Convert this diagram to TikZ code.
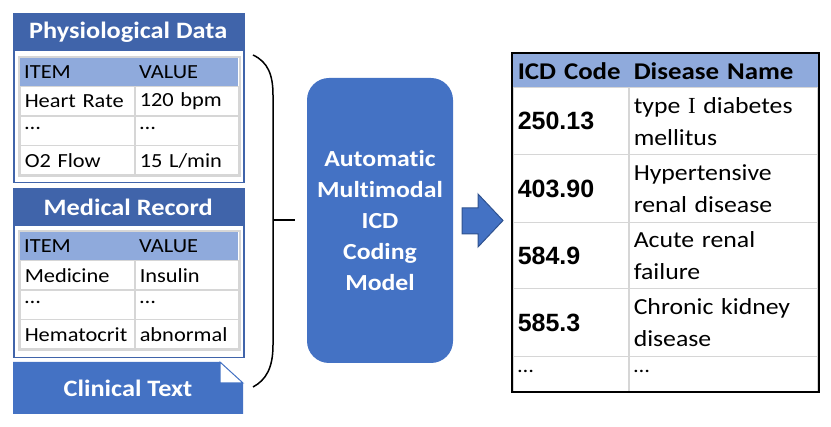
\documentclass[tikz,border=0pt]{standalone}
\usepackage{fontspec}
\setmainfont{Carlito}[FakeStretch=1.12, Ligatures={NoCommon}]
\newfontfamily\numfont{Liberation Sans}
\newfontfamily\romfont{Liberation Serif}
\usetikzlibrary{positioning}

\definecolor{panelblue}{RGB}{64,100,170}
\definecolor{modelblue}{RGB}{68,114,196}
\definecolor{hdrblue}{RGB}{143,170,220}
\definecolor{cellgray}{RGB}{214,214,214}
\definecolor{arrowedge}{RGB}{47,82,143}

\tikzset{
  panel/.style={draw=panelblue, line width=1.5pt, fill=white, anchor=north west, minimum width=230pt, minimum height=169pt, inner sep=0pt},
  paneltitle/.style={fill=panelblue, anchor=north west, minimum width=230pt, minimum height=38pt, inner sep=0pt, text=white, font=\bfseries\fontsize{23.5}{28}\selectfont},
  itemcell/.style={anchor=north west, minimum height=29.5pt, text width=105pt, inner xsep=5pt, inner ysep=0pt, align=left, font=\fontsize{20}{24}\selectfont},
  valcell/.style={itemcell, text width=94pt},
  headcell/.style={fill=hdrblue},
  bodycell/.style={draw=cellgray, line width=1.5pt, fill=white},
  codecell/.style={anchor=north west, text width=106pt, inner xsep=5pt, inner ysep=0pt, align=left, draw=cellgray, line width=1.5pt, fill=white, font=\numfont\bfseries\fontsize{25}{30}\selectfont},
  namecell/.style={codecell, text width=179pt, font=\fontsize{23}{32}\selectfont},
  tabhead/.style={fill=hdrblue, draw=none, font=\bfseries\fontsize{24}{28}\selectfont},
  modelbox/.style={fill=modelblue, rounded corners=22pt, minimum width=146pt, minimum height=285pt, text=white, align=center, font=\bfseries\fontsize{23}{31}\selectfont},
  brace/.style={black, line width=1.5pt}
}
\newcommand{\mdots}{\raisebox{5pt}{…}}

\begin{document}
\begin{tikzpicture}[x=1pt, y=-1pt]
\useasboundingbox (0,0) rectangle (831,427);

\node[panel] (phys) at (13,13) {};
\node[paneltitle] (physt) at (13,13) {Physiological Data};
\node[itemcell, headcell] (pih) at (19,57) {ITEM};
\node[valcell, headcell] (pvh) at (134,57) {VALUE};
\node[itemcell, bodycell] (pi1) at (19,86) {Heart Rate};
\node[valcell, bodycell] (pv1) at (134,86) {120 bpm};
\node[itemcell, bodycell] (pi2) at (19,115.5) {\mdots};
\node[valcell, bodycell] (pv2) at (134,115.5) {\mdots};
\node[itemcell, bodycell] (pi3) at (19,145) {O2 Flow};
\node[valcell, bodycell] (pv3) at (134,145) {15 L/min};
\draw[cellgray, line width=2pt] (pih.north west) rectangle (pv3.south east);

\node[panel] (med) at (13,188) {};
\node[paneltitle] (medt) at (13,188) {Medical Record};
\node[itemcell, headcell] (mih) at (19,231) {ITEM};
\node[valcell, headcell] (mvh) at (134,231) {VALUE};
\node[itemcell, bodycell] (mi1) at (19,260) {Medicine};
\node[valcell, bodycell] (mv1) at (134,260) {Insulin};
\node[itemcell, bodycell] (mi2) at (19,289.5) {\mdots};
\node[valcell, bodycell] (mv2) at (134,289.5) {\mdots};
\node[itemcell, bodycell] (mi3) at (19,319) {Hematocrit};
\node[valcell, bodycell] (mv3) at (134,319) {abnormal};
\draw[cellgray, line width=2pt] (mih.north west) rectangle (mv3.south east);

\fill[modelblue] (13,362) -- (220,362) -- (243,383) -- (243,414) -- (13,414) -- cycle;
\filldraw[fill=white, draw=modelblue, line width=1pt] (220,362) -- (243,383) -- (220,383) -- cycle;
\node[text=white, font=\bfseries\fontsize{23.5}{28}\selectfont] (clin) at (128,388) {Clinical Text};

\draw[brace] (253,55) .. controls (268,62) and (273,75) .. (273,95) -- (273,345) .. controls (273,368) and (266,380) .. (253,387);
\coordinate (bracemid) at (273,220);
\coordinate (bracetick) at (295,220);
\draw[brace] (bracemid) -- (bracetick);

\node[modelbox] (model) at (380,220.5) {Automatic\\Multimodal\\ICD\\Coding\\Model};

\filldraw[fill=modelblue, draw=arrowedge, line width=1pt] (462,208) -- (478,208) -- (478,194) -- (503,220.5) -- (478,247) -- (478,234) -- (462,234) -- cycle;

\node[codecell, tabhead, minimum height=34pt] (ch) at (512,53) {ICD Code};
\node[namecell, tabhead, minimum height=34pt] (nh) at (628,53) {Disease Name};
\node[codecell, minimum height=67pt] (c1) at (512,87) {250.13};
\node[namecell, minimum height=67pt] (n1) at (628,87) {type {\romfont I} diabetes\\mellitus};
\node[codecell, minimum height=68pt] (c2) at (512,154) {403.90};
\node[namecell, minimum height=68pt] (n2) at (628,154) {Hypertensive\\renal disease};
\node[codecell, minimum height=66pt] (c3) at (512,222) {584.9};
\node[namecell, minimum height=66pt] (n3) at (628,222) {Acute renal\\failure};
\node[codecell, minimum height=68pt] (c4) at (512,288) {585.3};
\node[namecell, minimum height=68pt] (n4) at (628,288) {Chronic kidney\\disease};
\node[codecell, minimum height=35pt, font=\fontsize{20}{24}\selectfont] (c5) at (512,356) {\mdots};
\node[namecell, minimum height=35pt, font=\fontsize{20}{24}\selectfont] (n5) at (628,356) {\mdots};
\draw[black, line width=2pt] (ch.north west) rectangle (n5.south east);
\end{tikzpicture}
\end{document}
